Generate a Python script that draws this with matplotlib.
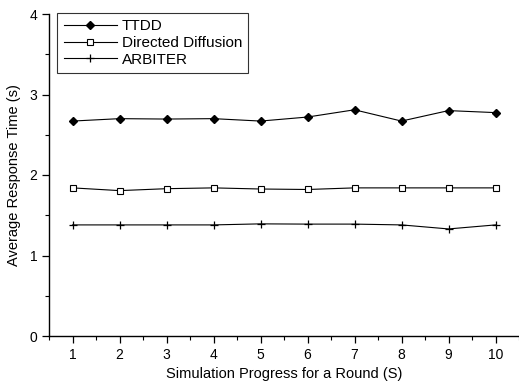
import matplotlib
matplotlib.use("Agg")
import matplotlib.pyplot as plt
from matplotlib.ticker import MultipleLocator

plt.rcParams['font.family'] = ['Liberation Sans', 'DejaVu Sans']

# data
rounds = [1, 2, 3, 4, 5, 6, 7, 8, 9, 10]
ttdd = [2.67, 2.70, 2.695, 2.70, 2.67, 2.72, 2.81, 2.67, 2.80, 2.775]
directed_diffusion = [1.84, 1.806, 1.83, 1.84, 1.826, 1.82, 1.84, 1.84, 1.84, 1.84]
arbiter = [1.38, 1.38, 1.38, 1.38, 1.393, 1.39, 1.39, 1.38, 1.33, 1.38]

fig = plt.figure(figsize=(5.19, 3.86), dpi=100)
ax = fig.add_axes([49 / 519, 1 - 336 / 386, 1 - 49 / 519, (336 - 14) / 386])

ax.plot(rounds, ttdd, '-', color='k', lw=0.8, marker='D', markersize=4,
        markerfacecolor='k', label='TTDD')
ax.plot(rounds, directed_diffusion, '-', color='k', lw=0.8, marker='s', markersize=4,
        markerfacecolor='white', markeredgewidth=0.8, label='Directed Diffusion')
ax.plot(rounds, arbiter, '-', color='k', lw=0.8, marker='+', markersize=5.5,
        markeredgewidth=0.9, label='ARBITER')

ax.set_xlim(0.5, 10.5)
ax.set_ylim(0, 4)
ax.xaxis.set_major_locator(MultipleLocator(1))
ax.xaxis.set_minor_locator(MultipleLocator(0.5))
ax.yaxis.set_major_locator(MultipleLocator(1))
ax.yaxis.set_minor_locator(MultipleLocator(0.5))

for side in ['top', 'right']:
    ax.spines[side].set_visible(False)
for side in ['left', 'bottom']:
    ax.spines[side].set_linewidth(1.0)

ax.tick_params(which='major', direction='out', length=5, width=0.9, labelsize=10)
ax.tick_params(which='minor', direction='out', length=3, width=0.8)

ax.set_xlabel('Simulation Progress for a Round (S)', fontsize=10.5, labelpad=4)
ax.set_ylabel('Average Response Time (s)', fontsize=10.5, labelpad=6)

leg = ax.legend(loc='upper left', bbox_to_anchor=(0.018, 1.003), fontsize=11,
                frameon=True, fancybox=False, edgecolor='k', handlelength=3.5,
                borderpad=0.4, labelspacing=0.18, handletextpad=0.3,
                borderaxespad=0.0)
leg.get_frame().set_linewidth(0.8)

fig.savefig('out.png', dpi=100)
